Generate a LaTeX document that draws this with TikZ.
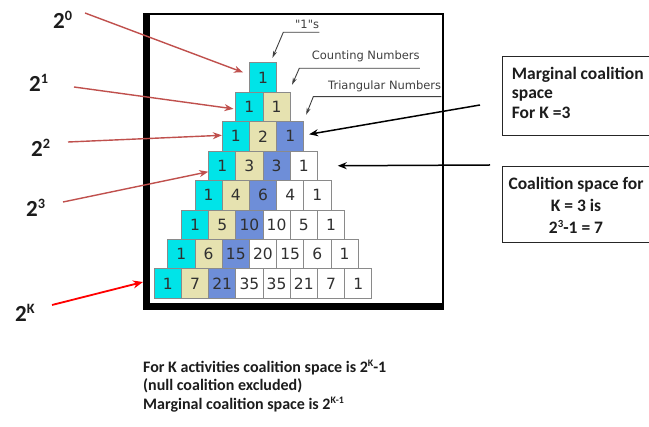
\documentclass[tikz,border=0pt]{standalone}
\usepackage{fontspec}
\usepackage{graphicx}
\setmainfont{Carlito}
\newfontfamily\cellfont{DejaVu Sans}
\usetikzlibrary{arrows.meta,calc}

\definecolor{cellcyan}{HTML}{00E4E8}
\definecolor{celltan}{HTML}{E6E2B0}
\definecolor{cellblue}{HTML}{6E8ED8}
\definecolor{cellline}{HTML}{8A8A8A}
\definecolor{celltext}{HTML}{303030}
\definecolor{leadgray}{HTML}{404040}
\definecolor{powred}{HTML}{C0504D}
\definecolor{inkdark}{HTML}{1C1C1C}

% raised exponent for the bold labels
\newcommand\expo[1]{\raisebox{0.36em}{\scalebox{0.62}{#1}}}

\begin{document}
\begin{tikzpicture}[x=1pt,y=-1pt,
  cell/.style={draw=cellline,line width=0.7pt,minimum width=27.2pt,
    minimum height=29.45pt,inner sep=0pt,text=celltext,
    font=\cellfont\fontsize{15.5}{15.5}\selectfont},
  shade0/.style={fill=cellcyan},
  shade1/.style={fill=celltan},
  shade2/.style={fill=cellblue},
  shade3/.style={fill=white},
  shade4/.style={fill=white},
  shade5/.style={fill=white},
  shade6/.style={fill=white},
  shade7/.style={fill=white},
  leadlbl/.style={inner sep=0pt,anchor=base west,text=leadgray,
    font=\cellfont\fontsize{11.5}{11.5}\selectfont},
  leader/.style={draw=leadgray,line width=0.9pt,
    -{Stealth[length=7pt,width=4pt]}},
  powlbl/.style={inner sep=0pt,anchor=base west,text=inkdark,
    font=\bfseries\fontsize{23}{23}\selectfont},
  powarrow/.style={draw=powred,line width=1.4pt,
    -{Stealth[length=9pt,width=7pt]}},
  kayarrow/.style={draw=red,line width=1.8pt,
    -{Stealth[length=10pt,width=8pt]}},
  blackarrow/.style={draw=black,line width=1.5pt,
    -{Stealth[length=9pt,width=7pt]}},
  infobox/.style={draw=black!85,line width=0.9pt,inner sep=0pt,
    minimum width=152pt},
  boxtext/.style={inner sep=0pt,text=inkdark,
    font=\bfseries\fontsize{17.5}{19.3}\selectfont},
  notetext/.style={inner sep=0pt,text=inkdark,align=left,
    font=\bfseries\fontsize{16}{18.3}\selectfont}]

\clip (0,0) rectangle (649,427);
\fill[white] (0,0) rectangle (649,427);

% picture frame with heavy left and bottom edges
\draw[line width=2pt] (145,14) rectangle (443,306);
\fill[black] (143,13) rectangle (150,310);
\fill[black] (143,303) rectangle (444,310);

% Pascal's triangle
\foreach \vals [count=\r from 0] in {{1},{1,1},{1,2,1},{1,3,3,1},{1,4,6,4,1},
    {1,5,10,10,5,1},{1,6,15,20,15,6,1},{1,7,21,35,35,21,7,1}} {
  \foreach \v [count=\c from 0] in \vals {
    \node[cell,shade\c] (c\r\c) at ({263+27.2*(\c-\r/2)},{77.4+29.45*\r}) {\v};
  }
}

% sequence labels with leaders
\node[leadlbl] (ones) at (295,28.5) {"1"s};
\node[leadlbl] (count) at (311.7,60) {Counting Numbers};
\node[leadlbl] (tri) at (328,89.5) {Triangular Numbers};
\coordinate (onesL) at (283.3,32.3);
\coordinate (countL) at (299.3,68.3);
\coordinate (triL) at (313.3,96.7);
\draw[leader] (onesL -| ones.east) -- (onesL) -- ($(c00.north east)+(-4.5,-4.5)$);
\draw[leader] (countL -| count.east) -- (countL) -- ($(c11.north east)+(1.5,-7)$);
\draw[leader] (triL -| tri.east) -- (triL) -- ($(c22.north east)+(2,-6.5)$);

% powers of two
\node[powlbl] (p0) at (53,29) {2\expo{0}};
\node[powlbl] (p1) at (29,92) {2\expo{1}};
\node[powlbl] (p2) at (31,157) {2\expo{2}};
\node[powlbl] (p3) at (26,217) {2\expo{3}};
\node[powlbl] (pK) at (15,322) {2\expo{K}};
\coordinate (s0) at (85,13);
\coordinate (s1) at (74,87);
\coordinate (s2) at (68,142);
\coordinate (s3) at (63,202);
\coordinate (sK) at (52,305);
\coordinate (frameK) at (143,282);
\draw[powarrow] (s0) -- ($(c00.west)+(-6,-5)$);
\draw[powarrow] (s1) -- ($(c10.west)+(-2,2)$);
\draw[powarrow] (s2) -- ($(c20.west)+(0,-1)$);
\draw[powarrow] (s3) -- ($(c30.west)+(0,6)$);
\draw[kayarrow] (sK) -- (frameK);

% coalition space boxes (multi-line nodes are placed by their last baseline)
\node[infobox,anchor=north west,minimum height=79pt] (mbox) at (502.3,56) {};
\node[boxtext,anchor=base west,align=left] (mtext) at (511.7,118.3)
  {Marginal coalition\\space\\For K =3};
\node[infobox,anchor=north west,minimum height=76pt] (cbox) at (501.7,166) {};
\node[boxtext,anchor=base,align=center,
  font=\bfseries\fontsize{17.5}{22.4}\selectfont] (ctext) at (576,234)
  {Coalition space for\\K = 3 is\\2\expo{3}-1 = 7};
\coordinate (m1) at (480,105);
\coordinate (m2) at (490,165);
\draw[blackarrow] (m1) -- ($(c22.east)+(5,-2)$);
\draw[blackarrow] (m2) -- ($(c33.east)+(20,0)$);

% summary note
\node[notetext,anchor=base west] (note) at (143,409.3)
  {For K activities coalition space is 2\expo{K}-1\\
   (null coalition excluded)\\
   Marginal coalition space is 2\expo{K-1}};
\end{tikzpicture}
\end{document}
